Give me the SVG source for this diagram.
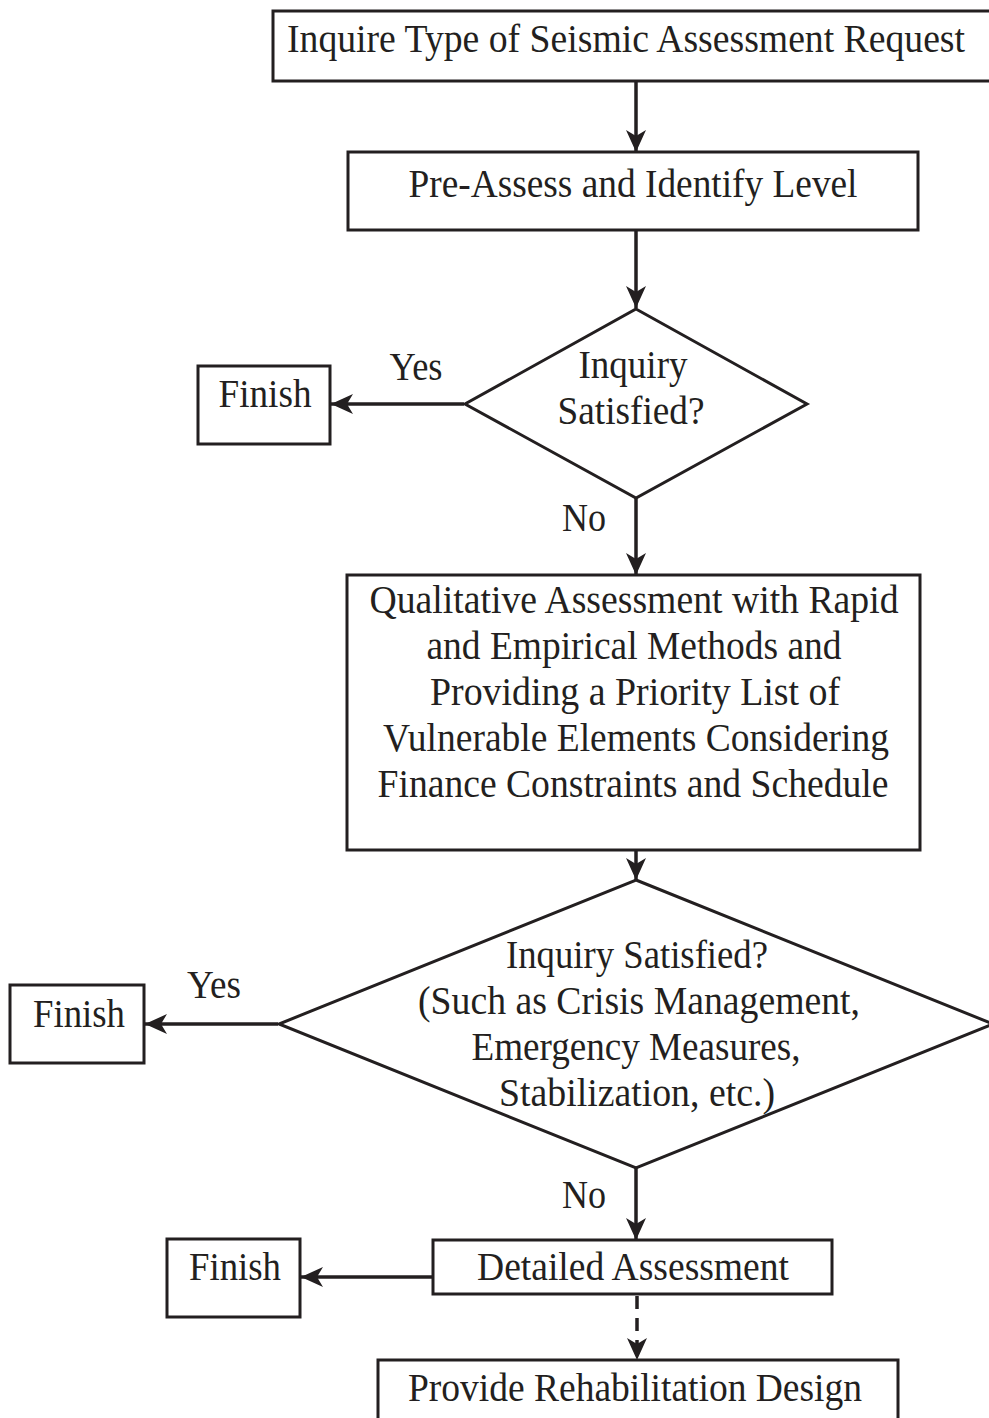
<svg xmlns="http://www.w3.org/2000/svg" width="989" height="1418" viewBox="0 0 989 1418">
<style>
.box{fill:#fff;stroke:#231f20;stroke-width:3}
.t{font-family:"Liberation Serif","Times New Roman",serif;font-size:40px;fill:#231f20;text-anchor:middle}
.tl{font-family:"Liberation Serif","Times New Roman",serif;font-size:40px;fill:#231f20}
.c{stroke:#231f20;stroke-width:3.5;fill:none}
.d{stroke-dasharray:13 9}
</style>
<defs>
<marker id="ah" markerUnits="userSpaceOnUse" markerWidth="24" markerHeight="22" refX="22" refY="10" orient="auto">
<path d="M0,0 L22,10 L0,20 L6,10 z" fill="#231f20"/>
</marker>
</defs>
<rect width="989" height="1418" fill="#fff"/>
<g id="connectors">
<line class="c" x1="636" y1="81" x2="636" y2="152" marker-end="url(#ah)"/>
<line class="c" x1="636" y1="230" x2="636" y2="308" marker-end="url(#ah)"/>
<line class="c" x1="464" y1="404" x2="331" y2="404" marker-end="url(#ah)"/>
<line class="c" x1="636" y1="498" x2="636" y2="575" marker-end="url(#ah)"/>
<line class="c" x1="636" y1="850" x2="636" y2="880" marker-end="url(#ah)"/>
<line class="c" x1="278" y1="1024" x2="145" y2="1024" marker-end="url(#ah)"/>
<line class="c" x1="636" y1="1168" x2="636" y2="1240" marker-end="url(#ah)"/>
<line class="c" x1="433" y1="1277" x2="301" y2="1277" marker-end="url(#ah)"/>
<line class="c d" x1="637" y1="1296" x2="637" y2="1360" marker-end="url(#ah)"/>
<text class="t" x="416" y="380" textLength="53" lengthAdjust="spacingAndGlyphs">Yes</text>
<text class="t" x="584" y="531" textLength="44" lengthAdjust="spacingAndGlyphs">No</text>
<text class="t" x="214" y="998" textLength="54" lengthAdjust="spacingAndGlyphs">Yes</text>
<text class="t" x="584" y="1208" textLength="44" lengthAdjust="spacingAndGlyphs">No</text>
</g>
<g id="n1">
<rect class="box" x="273" y="11" width="730" height="70"/>
<text class="t" x="626" y="52" textLength="678" lengthAdjust="spacingAndGlyphs">Inquire Type of Seismic Assessment Request</text>
</g>
<g id="n2">
<rect class="box" x="348" y="152" width="570" height="78"/>
<text class="t" x="633" y="197" textLength="449" lengthAdjust="spacingAndGlyphs">Pre-Assess and Identify Level</text>
</g>
<g id="d1">
<polygon class="box" points="636,309 807,404 636,498 465,404"/>
<text class="t" x="633" y="378" textLength="109" lengthAdjust="spacingAndGlyphs">Inquiry</text>
<text class="t" x="631" y="424" textLength="147" lengthAdjust="spacingAndGlyphs">Satisfied?</text>
</g>
<g id="f1">
<rect class="box" x="198" y="366" width="132" height="78"/>
<text class="t" x="265" y="407" textLength="93" lengthAdjust="spacingAndGlyphs">Finish</text>
</g>
<g id="n3">
<rect class="box" x="347" y="575" width="573" height="275"/>
<text class="t" x="634" y="613" textLength="529" lengthAdjust="spacingAndGlyphs">Qualitative Assessment with Rapid</text>
<text class="t" x="634" y="659" textLength="415" lengthAdjust="spacingAndGlyphs">and Empirical Methods and</text>
<text class="t" x="635" y="705" textLength="410" lengthAdjust="spacingAndGlyphs">Providing a Priority List of</text>
<text class="t" x="636" y="751" textLength="506" lengthAdjust="spacingAndGlyphs">Vulnerable Elements Considering</text>
<text class="t" x="633" y="797" textLength="511" lengthAdjust="spacingAndGlyphs">Finance Constraints and Schedule</text>
</g>
<g id="d2">
<polygon class="box" points="636,880 993,1024 636,1168 279,1024"/>
<text class="t" x="637" y="968" textLength="262" lengthAdjust="spacingAndGlyphs">Inquiry Satisfied?</text>
<text class="t" x="639" y="1014" textLength="442" lengthAdjust="spacingAndGlyphs">(Such as Crisis Management,</text>
<text class="t" x="636" y="1060" textLength="329" lengthAdjust="spacingAndGlyphs">Emergency Measures,</text>
<text class="t" x="637" y="1106" textLength="276" lengthAdjust="spacingAndGlyphs">Stabilization, etc.)</text>
</g>
<g id="f2">
<rect class="box" x="10" y="985" width="134" height="78"/>
<text class="t" x="79" y="1027" textLength="92" lengthAdjust="spacingAndGlyphs">Finish</text>
</g>
<g id="n4">
<rect class="box" x="433" y="1240" width="399" height="54"/>
<text class="t" x="633" y="1280" textLength="312" lengthAdjust="spacingAndGlyphs">Detailed Assessment</text>
</g>
<g id="f3">
<rect class="box" x="167" y="1239" width="133" height="78"/>
<text class="t" x="235" y="1280" textLength="92" lengthAdjust="spacingAndGlyphs">Finish</text>
</g>
<g id="n5">
<rect class="box" x="378" y="1360" width="520" height="80"/>
<text class="t" x="635" y="1401" textLength="454" lengthAdjust="spacingAndGlyphs">Provide Rehabilitation Design</text>
</g>
</svg>
